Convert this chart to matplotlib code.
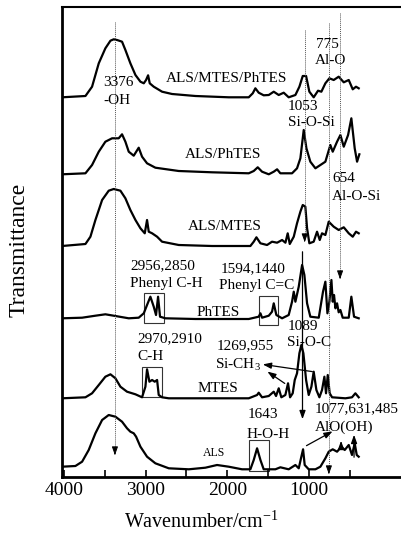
import matplotlib
matplotlib.use('Agg')
import matplotlib.pyplot as plt

plt.rcParams['font.family'] = ['Liberation Serif', 'DejaVu Serif']
plt.rcParams['mathtext.fontset'] = 'custom'
plt.rcParams['mathtext.rm'] = 'Liberation Serif'
plt.rcParams['mathtext.it'] = 'Liberation Serif'

# spectra (wavenumber, transmittance in stacked a.u.)
w_all = [4023, 3737, 3656, 3574, 3493, 3431, 3391, 3350, 3289, 3248, 3187, 3125, 3064, 3023, 2995,
         2970, 2950, 2901, 2799, 2677, 2391, 1983, 1738, 1689, 1657, 1616, 1555, 1493, 1432, 1371,
         1310, 1249, 1167, 1118, 1077, 1036, 996, 943, 890, 849, 800, 751, 698, 637, 575, 514, 465,
         425, 392]
t_all = [379.7, 381, 390.3, 413.7, 428.7, 436.3, 437.7, 437, 435.3, 427, 413.7, 402, 395.3, 393.7, 397,
         401.7, 393.7, 390.3, 385.3, 383, 381, 379.7, 379.7, 383.7, 388.7, 384.3, 381.7, 382, 385.3, 382,
         384.3, 379.7, 382, 390.3, 401, 401, 385.3, 379.7, 386.3, 385.3, 393.7, 398.7, 397, 400.3, 394.7,
         397, 387.7, 390.3, 388.7]

w_als_ph = [4023, 3737, 3656, 3574, 3493, 3411, 3330, 3289, 3248, 3207, 3146, 3085, 3044, 2983, 2881,
            2595, 2187, 1738, 1677, 1628, 1575, 1493, 1432, 1391, 1351, 1208, 1147, 1106, 1065, 1032,
            984, 922, 861, 800, 739, 710, 657, 616, 575, 522, 482, 441, 412, 384]
t_als_ph = [302.7, 303.7, 312, 325.3, 335.3, 338.7, 338.7, 342.7, 335.3, 325.3, 321.3, 329.3, 320.3,
            313.7, 309.3, 306, 304.7, 303.7, 306, 309.7, 305.3, 302.7, 305.3, 307.7, 303.7, 303.7, 308.7,
            318.7, 347, 328.7, 315.3, 308.7, 312, 315.3, 332, 325.3, 335.3, 342, 330.3, 342, 358.7, 328.7,
            315.3, 322.7]

w_als_m = [4023, 3737, 3676, 3615, 3533, 3452, 3391, 3309, 3248, 3187, 3125, 3064, 3011, 2983, 2962,
           2921, 2860, 2799, 2595, 2187, 1718, 1677, 1644, 1595, 1514, 1453, 1391, 1330, 1289, 1261,
           1236, 1187, 1147, 1106, 1077, 1045, 1024, 996, 943, 902, 869, 841, 800, 759, 698, 637, 575,
           514, 465, 425, 392]
t_als_m = [231, 233, 240.3, 257, 277, 286.3, 288, 286.3, 278.7, 267, 257, 248.7, 243.7, 257, 245.3,
           243.7, 240.3, 235.3, 232, 231, 231, 235.3, 239.7, 233.7, 232, 235.3, 234.3, 237, 234.3, 243.7,
           233, 240.3, 253.7, 265.3, 272, 270.3, 248.7, 233.7, 235.3, 245.3, 237, 243.7, 242, 255.3,
           250.3, 247, 249.7, 243.7, 240.3, 245.3, 243.7]

w_ph = [4023, 3778, 3615, 3493, 3370, 3207, 3085, 3023, 2983, 2942, 2901, 2873, 2848, 2824, 2758, 2391,
        1738, 1616, 1595, 1575, 1493, 1453, 1432, 1400, 1330, 1249, 1208, 1187, 1167, 1126, 1085, 1057,
        1024, 984, 881, 829, 800, 775, 751, 726, 710, 694, 677, 657, 637, 616, 588, 514, 482, 449, 392]
t_ph = [158.7, 159.3, 161.3, 162.7, 161, 158.7, 159.3, 163.7, 172, 180.3, 170.3, 162, 180.3, 160.3,
        158.7, 158, 158, 160.3, 163.7, 159.3, 161.3, 165.3, 173.7, 162, 158.7, 162, 175.3, 185.3, 175.3,
        190.3, 212, 202, 173.7, 160.3, 159.3, 185.3, 195.3, 163.7, 175.3, 197, 175.3, 182, 168.7, 173.7,
        164.7, 167, 159.3, 159.3, 180.3, 160.3, 158.7]

w_m = [4023, 3737, 3656, 3574, 3493, 3431, 3370, 3309, 3228, 3125, 3044, 3003, 2983, 2954, 2921, 2889,
       2860, 2840, 2799, 2717, 1738, 1636, 1616, 1575, 1493, 1432, 1404, 1371, 1339, 1290, 1257, 1232,
       1200, 1175, 1147, 1118, 1094, 1069, 1036, 1004, 971, 943, 910, 873, 841, 812, 792, 771, 747, 718,
       555, 474, 433, 392]
t_m = [78.7, 79.7, 83.7, 92, 100.3, 102.7, 98.7, 90.3, 85.3, 82.7, 79.7, 90.3, 107.7, 95.3, 97, 95.3,
       97, 82, 79.7, 78.7, 78.7, 82, 84.3, 79.7, 81, 85.3, 81, 88.7, 79.7, 82, 93.7, 79.7, 83.7, 97,
       103.7, 123.7, 132, 123.7, 97, 82, 90.3, 105.3, 87, 79.7, 87, 100.3, 83.7, 102, 83.7, 79.7, 78.7,
       79.7, 83.7, 79.7]

w_als = [4023, 3860, 3778, 3697, 3615, 3533, 3452, 3370, 3289, 3228, 3187, 3146, 3117, 3064, 2983, 2881,
         2717, 2472, 2269, 2126, 1983, 1820, 1718, 1677, 1636, 1595, 1555, 1412, 1351, 1249, 1167, 1126,
         1094, 1073, 1053, 1004, 922, 861, 800, 759, 710, 657, 604, 563, 514, 474, 441, 416, 392]
t_als = [10.3, 11, 15.3, 27, 43.7, 57, 62, 60.3, 55.3, 48.7, 45.3, 43.7, 40.3, 30.3, 20.3, 13.7, 8.7,
         7.7, 9.3, 12, 10.3, 7.7, 7.7, 17, 28.7, 17, 7.7, 7.7, 9.7, 7.7, 12, 8.7, 20.3, 27.7, 12, 7.7,
         7.7, 10.3, 18.7, 25.3, 27.7, 25.3, 30.3, 27, 32, 22, 33.7, 22, 20.3]

# text labels: (x, y, text)
labels = [
    (3521, 394, '3376'), (3521, 376, '-OH'), (2750, 399, 'ALS/MTES/PhTES'),
    (914, 433, '775'), (926, 416, 'Al-O'), (1257, 371, '1053'), (1257, 355, 'Si-O-Si'),
    (2518, 323, 'ALS/PhTES'), (718, 299, '654'), (718, 281, 'Al-O-Si'),
    (2481, 250, 'ALS/MTES'), (3191, 211, '2956,2850'), (3191, 194, 'Phenyl C-H'),
    (2077, 208, '1594,1440'), (2101, 191, 'Phenyl C=C'), (2383, 165, 'PhTES'),
    (1257, 150, '1089'), (1269, 134, 'Si-O-C'), (3105, 138, '2970,2910'), (3105, 120, 'C-H'),
    (2126, 131, '1269,955'), (2150, 112, 'Si-CH$_3$'), (2371, 88, 'MTES'),
    (926, 68, '1077,631,485'), (926, 50, 'AlO(OH)'), (1747, 63, '1643'), (1759, 43, 'H-O-H'),
]

# boxes around bands: (x_left, x_right, y_bottom, y_top)
boxes = [(3019, 2775, 154, 184), (1612, 1379, 152, 181), (3044, 2799, 80, 110), (1734, 1489, 6, 37)]

# dotted guide lines: (x, y_start, y_tip)
guides = [(3376, 455, 19), (1053, 447, 232), (757, 454, 0), (620, 464, 195)]

# solid arrows: (x_tail, y_tail, x_head, y_head)
arrows = [(1080, 228, 1080, 55), (926, 105, 1600, 113), (1269, 92, 1538, 107),
          (1061, 30, 682, 47), (608, 25, 608, 39), (449, 17, 449, 45)]

fig = plt.figure(figsize=(4.02, 5.33), dpi=100)
ax = fig.add_axes([62 / 402, 56 / 533, 340 / 402, 470 / 533])

for w, t in [(w_all, t_all), (w_als_ph, t_als_ph), (w_als_m, t_als_m),
             (w_ph, t_ph), (w_m, t_m), (w_als, t_als)]:
    ax.plot(w, t, color='black', lw=1.6, solid_joinstyle='round')

for x, y, s in labels:
    ax.text(x, y, s, fontsize=11, ha='left', va='center')
ax.text(2297, 24, 'ALS', fontsize=8.5, ha='left', va='center')

for x0, x1, y0, y1 in boxes:
    ax.add_patch(plt.Rectangle((x0, y0), x1 - x0, y1 - y0, fill=False, lw=0.8, ec='#333333'))

for x, y0, y1 in guides:
    ax.plot([x, x], [y0, y1 + 6], color='#555555', lw=0.7, ls=(0, (1, 1)), clip_on=False)
    ax.annotate('', xy=(x, y1), xytext=(x, y1 + 8), annotation_clip=False,
                arrowprops=dict(arrowstyle='-|>,head_length=0.5,head_width=0.18', color='black', lw=0.7))

for xt, yt, xh, yh in arrows:
    ax.annotate('', xy=(xh, yh), xytext=(xt, yt),
                arrowprops=dict(arrowstyle='-|>,head_length=0.5,head_width=0.18', color='black', lw=0.9))

ax.set_xlim(4024, -138)
ax.set_ylim(0, 470)
ax.set_xticks([4000, 3000, 2000, 1000])
ax.set_xticks([3500, 2500, 1500, 500], minor=True)
ax.set_yticks([])
ax.tick_params(axis='x', which='both', direction='in', length=5, width=1.2, top=False, labelsize=14)
ax.spines['right'].set_visible(False)
ax.spines['left'].set_linewidth(2)
ax.spines['bottom'].set_linewidth(2)
ax.spines['top'].set_linewidth(1.5)
ax.set_xlabel('Wavenumber/cm$^{-1}$', fontsize=14.5, va='center')
ax.xaxis.set_label_coords(0.41, -0.096)
ax.set_ylabel('Transmittance', fontsize=17, va='center')
ax.yaxis.set_label_coords(-0.126, 0.483)

fig.savefig('out.png', dpi=100)
